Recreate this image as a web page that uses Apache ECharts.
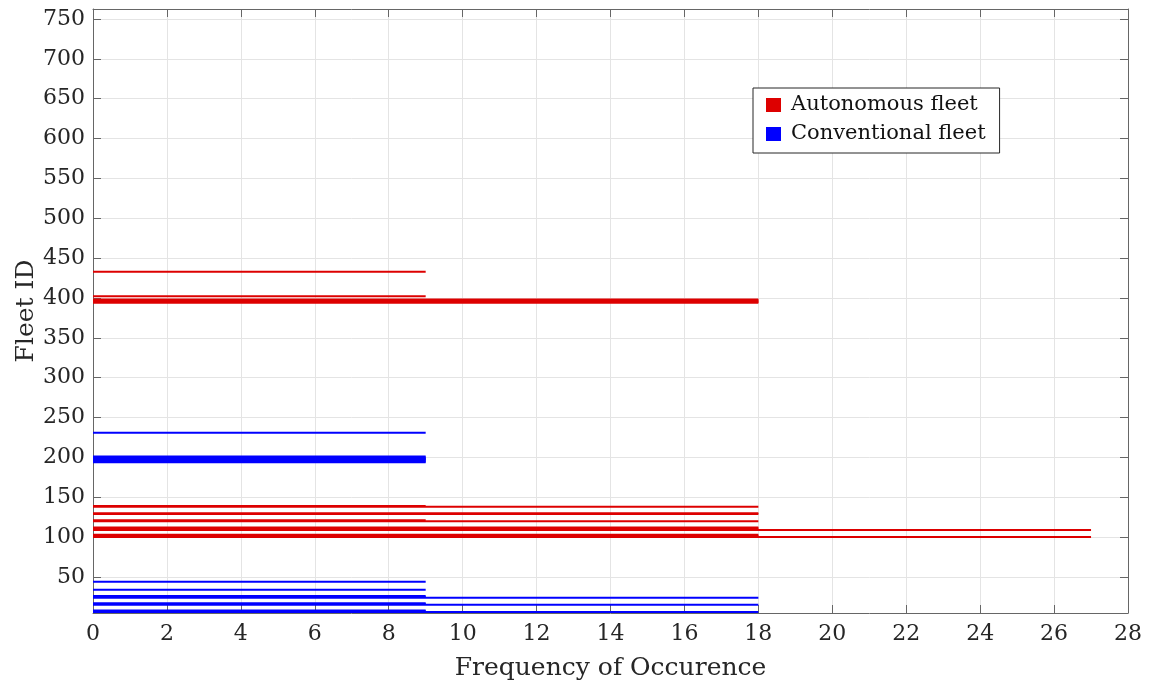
<!DOCTYPE html>
<html><head><meta charset="utf-8">
<script src="https://cdn.jsdelivr.net/npm/echarts@6/dist/echarts.min.js"></script>
<style>html,body{margin:0;padding:0;background:#fff}#c{width:1152px;height:688px}</style>
</head><body><div id="c"></div>
<script>
const seriesNames = ['Autonomous fleet', 'Conventional fleet'];
const autonomousIds  = [433, 402, 398, 397, 396, 395, 394, 139, 138, 130, 129, 121, 120, 112, 111, 110, 109, 103, 102, 101, 100];
const autonomousFreq = [  9,   9,  18,  18,  18,  18,  18,   9,  18,  18,  18,   9,  18,  18,  18,  18,  27,  18,  18,  18,  27];
const conventionalIds  = [231, 201, 200, 199, 198, 197, 196, 195, 194, 44, 34, 26, 25, 24, 17, 16, 15, 8, 7, 6];
const conventionalFreq = [  9,   9,   9,   9,   9,   9,   9,   9,   9,  9,  9,  9,  9, 18,  9,  9, 18, 9, 9, 18];
const xTicks = [0, 2, 4, 6, 8, 10, 12, 14, 16, 18, 20, 22, 24, 26, 28];
const yTicks = [50, 100, 150, 200, 250, 300, 350, 400, 450, 500, 550, 600, 650, 700, 750];
const xLabel = 'Frequency of Occurence';
const yLabel = 'Fleet ID';

const FONT = 'DejaVu Serif';
const AX = '#666666';
const TXT = '#262626';
const GRID = '#e4e4e4';

function renderBar(params, api) {
  const f = api.value(0), id = api.value(1);
  const p0 = api.coord([0, id]);
  const p1 = api.coord([f, id]);
  return {
    type: 'rect',
    shape: { x: p0[0], y: p0[1] - 1, width: p1[0] - p0[0], height: 2 },
    style: { fill: api.visual('color') }
  };
}

const chart = echarts.init(document.getElementById('c'), null, { renderer: 'canvas' });
const yCommon = {
  type: 'value', min: 4.8, max: 762.5,
  axisLine: { show: true, onZero: false, lineStyle: { color: AX, width: 1 } },
  axisTick: { show: true, inside: true, length: 8, customValues: yTicks, lineStyle: { color: AX } }
};
chart.setOption({
  animation: false,
  backgroundColor: '#ffffff',
  grid: { left: 93, right: 24, top: 9, bottom: 75, containLabel: false },
  legend: {
    orient: 'vertical', left: 753, top: 88,
    data: seriesNames.map(n => ({ name: n, icon: 'rect' })),
    itemWidth: 15, itemHeight: 14, itemGap: 7,
    padding: [6, 14, 8, 13],
    borderColor: '#262626', borderWidth: 1, backgroundColor: '#ffffff',
    textStyle: { fontFamily: FONT, fontSize: 21, color: '#111', lineHeight: 22, padding: [0, 0, 0, 5] }
  },
  xAxis: [{
    type: 'value', min: 0, max: 28, interval: 2, position: 'bottom',
    axisLine: { show: true, onZero: false, lineStyle: { color: AX, width: 1 } },
    axisTick: { show: true, inside: true, length: 8, lineStyle: { color: AX } },
    axisLabel: { fontFamily: FONT, fontSize: 22, color: TXT, margin: 10 },
    splitLine: { show: true, lineStyle: { color: GRID, width: 1 } },
    name: xLabel, nameLocation: 'middle', nameGap: 43, nameMoveOverlap: false,
    nameTextStyle: { fontFamily: FONT, fontSize: 25, color: TXT }
  }, {
    type: 'value', min: 0, max: 28, interval: 2, position: 'top',
    axisLine: { show: true, onZero: false, lineStyle: { color: AX, width: 1 } },
    axisTick: { show: true, inside: true, length: 8, lineStyle: { color: AX } },
    axisLabel: { show: false }, splitLine: { show: false }
  }],
  yAxis: [Object.assign({}, yCommon, {
    position: 'left',
    axisLabel: { customValues: yTicks, fontFamily: FONT, fontSize: 22, color: TXT, margin: 8 },
    splitLine: { show: true, lineStyle: { color: GRID, width: 1 } },
    name: yLabel, nameLocation: 'middle', nameGap: 54, nameMoveOverlap: false,
    nameTextStyle: { fontFamily: FONT, fontSize: 25, color: TXT }
  }), Object.assign({}, yCommon, {
    position: 'right',
    axisLabel: { show: false }, splitLine: { show: false }
  })],
  series: [{
    name: seriesNames[0], type: 'custom', renderItem: renderBar,
    xAxisIndex: 0, yAxisIndex: 0, encode: { x: 0, y: 1 },
    itemStyle: { color: '#dd0000' },
    data: autonomousIds.map((id, i) => [autonomousFreq[i], id])
  }, {
    name: seriesNames[1], type: 'custom', renderItem: renderBar,
    xAxisIndex: 0, yAxisIndex: 0, encode: { x: 0, y: 1 },
    itemStyle: { color: '#0000ff' },
    data: conventionalIds.map((id, i) => [conventionalFreq[i], id])
  }]
});
</script>
</body></html>
